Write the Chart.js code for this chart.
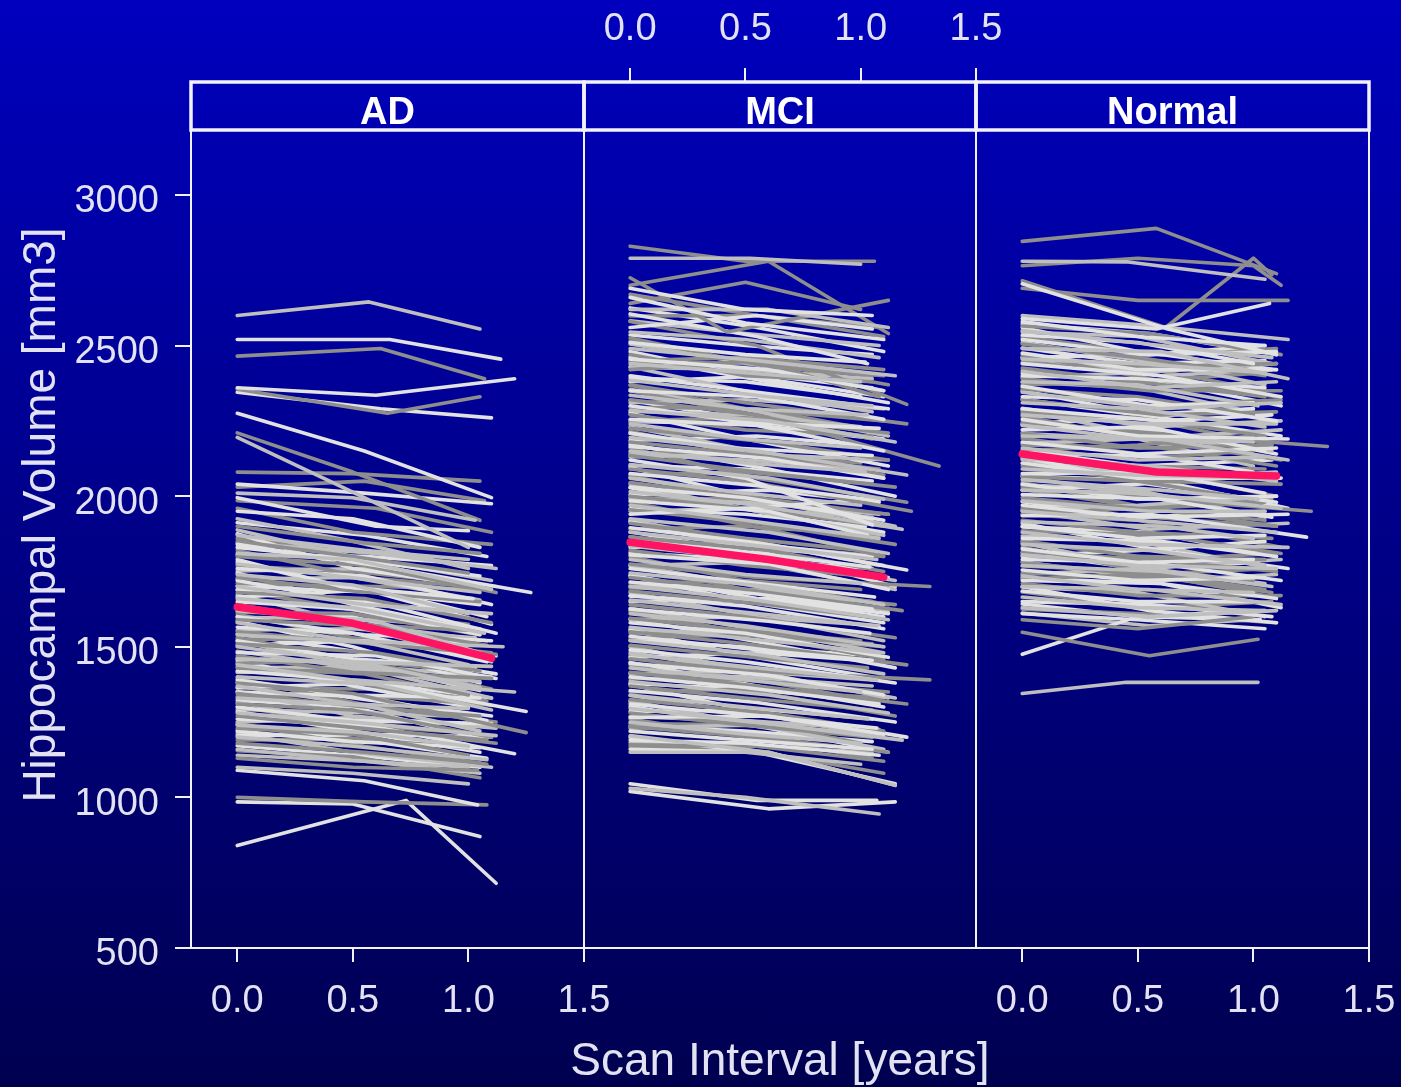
<!DOCTYPE html>
<html>
<head>
<meta charset="utf-8">
<script src="https://cdn.jsdelivr.net/npm/chart.js@4.4.1/dist/chart.umd.min.js"></script>
<style>
html,body{margin:0;padding:0;background:#000050;}
#wrap{position:relative;width:1401px;height:1087px;overflow:hidden;
  background:linear-gradient(to bottom, rgb(0,0,190) 0%, rgb(0,0,80) 100%);}
#wrap canvas{position:absolute;left:0;top:0;}
</style>
</head>
<body>
<div id="wrap">
  <canvas id="cAD" width="1401" height="1087"></canvas>
  <canvas id="cMCI" width="1401" height="1087"></canvas>
  <canvas id="cNormal" width="1401" height="1087"></canvas>
</div>
<script>
// ---------------- DATA ----------------
const panelNames = ["AD", "MCI", "Normal"];
const xTickValues = [0, 0.5, 1.0, 1.5];
const yTickValues = [500, 1000, 1500, 2000, 2500, 3000];
const xRange = [-0.2, 1.5];
const yRange = [500, 3375];
const xTitle = "Scan Interval [years]";
const yTitle = "Hippocampal Volume [mm3]";

// each subject: [t0, v0, t1, v1, t2, v2, ...]  (years, mm3)
const adMean = [0,1632, 0.5,1578, 1.1,1462];
const mciMean = [0,1847, 0.6,1790, 1.1,1731];
const normalMean = [0,2140, 0.58,2080, 1.1,2067];

const adA = [
 [0,2520, 0.66,2520, 1.14,2455],[0,2360, 0.6,2335, 1.2,2390],[0,2345, 0.62,2290, 1.1,2260],
 [0,2275, 0.55,2150, 1.1,1995],[0,2040, 0.55,2010, 1.1,1975],[0,1995, 0.6,1900, 1.0,1885],
 [0,1950, 0.5,1925, 1.05,1830],[0,1840, 0.6,1770, 1.27,1680],[0,1830, 0.5,1790, 1.05,1735],
 [0,1790, 0.45,1700, 1.02,1660],[0,1760, 0.55,1735, 1.1,1640],[0,1720, 0.5,1650, 1.0,1615],
 [0,1690, 0.55,1655, 1.12,1545],[0,1650, 0.5,1625, 1.05,1540],[0,1600, 0.55,1540, 1.1,1520],
 [0,1565, 0.5,1545, 1.08,1450],[0,1520, 0.5,1460, 1.03,1430],[0,1480, 0.6,1470, 1.12,1395],
 [0,1420, 0.55,1385, 1.25,1285],[0,1390, 0.5,1340, 1.05,1330],[0,1350, 0.55,1335, 1.08,1255],
 [0,1300, 0.5,1255, 1.1,1245],[0,1260, 0.55,1240, 1.2,1145],[0,1220, 0.5,1185, 1.05,1165],
 [0,1090, 0.55,1055, 1.04,975],[0,985, 0.5,978, 1.05,870],[0,840, 0.73,990, 1.12,715],
 [0,1875, 0.5,1760, 1.05,1700],[0,1805, 0.55,1800, 1.1,1770],[0,1745, 0.5,1640, 1.0,1560],
 [0,1665, 0.6,1690, 1.08,1600],[0,1585, 0.5,1500, 1.05,1380],[0,1505, 0.55,1520, 1.12,1470],
 [0,1455, 0.5,1370, 1.0,1300],[0,1365, 0.6,1380, 1.1,1330],[0,1285, 0.5,1220, 1.05,1150],
 [0,1205, 0.55,1210, 1.1,1200],
 [0,1912, 0.55,1870, 1.08,1800],[0,1782, 0.5,1690, 1.05,1640],[0,1702, 0.6,1680, 1.1,1575],
 [0,1622, 0.5,1600, 1.0,1505],[0,1542, 0.55,1480, 1.12,1410],[0,1462, 0.5,1450, 1.05,1355],
 [0,1382, 0.6,1320, 1.1,1270],[0,1322, 0.5,1300, 1.03,1200],[0,1242, 0.55,1190, 1.08,1130],
 [0,1172, 0.5,1140, 1.05,1100]
];
const adB = [
 [0,2600, 0.57,2645, 1.05,2555],[0,2195, 0.4,2050, 1.0,1830],[0,2010, 0.5,1995, 1.03,1920],
 [0,1870, 0.55,1820, 1.0,1790],[0,1810, 0.5,1790, 1.1,1690],[0,1775, 0.6,1720, 1.05,1680],
 [0,1740, 0.5,1705, 1.0,1610],[0,1700, 0.55,1640, 1.1,1610],[0,1660, 0.5,1630, 1.07,1545],
 [0,1620, 0.6,1585, 1.05,1480],[0,1580, 0.5,1520, 1.15,1500],[0,1540, 0.55,1515, 1.0,1440],
 [0,1500, 0.5,1450, 1.1,1435],[0,1460, 0.55,1445, 1.05,1365],[0,1440, 0.5,1390, 1.2,1350],
 [0,1400, 0.6,1375, 1.1,1290],[0,1370, 0.5,1310, 1.0,1295],[0,1330, 0.55,1305, 1.05,1220],
 [0,1280, 0.5,1250, 1.12,1205],[0,1240, 0.55,1215, 1.0,1170],[0,1200, 0.5,1170, 1.08,1125],
 [0,1100, 0.5,1080, 1.0,1045],
 [0,1925, 0.5,1850, 1.0,1760],[0,1845, 0.6,1810, 1.12,1760],[0,1725, 0.5,1730, 1.05,1655],
 [0,1635, 0.55,1560, 1.1,1450],[0,1555, 0.5,1560, 1.03,1530],[0,1485, 0.6,1420, 1.1,1330],
 [0,1415, 0.5,1420, 1.05,1385],[0,1315, 0.55,1240, 1.0,1175],[0,1250, 0.5,1265, 1.08,1240],
 [0,1160, 0.55,1120, 1.05,1080],
 [0,1888, 0.5,1800, 1.1,1720],[0,1752, 0.55,1760, 1.0,1700],[0,1672, 0.5,1580, 1.08,1520],
 [0,1598, 0.6,1590, 1.05,1560],[0,1518, 0.5,1440, 1.1,1400],[0,1432, 0.55,1430, 1.0,1370],
 [0,1352, 0.5,1270, 1.12,1230],[0,1292, 0.6,1280, 1.05,1265],[0,1212, 0.5,1150, 1.1,1100],
 [0,1140, 0.55,1120, 1.0,1100]
];
const adC = [
 [0,2465, 0.62,2490, 1.07,2390],[0,2355, 0.65,2275, 1.05,2330],[0,2210, 0.5,2080, 1.05,1920],
 [0,2080, 0.5,2075, 1.05,2050],[0,2030, 0.55,2050, 1.07,1985],[0,1985, 0.6,1960, 1.1,1880],
 [0,1900, 0.55,1845, 1.05,1810],[0,1850, 0.5,1800, 1.0,1745],[0,1800, 0.55,1770, 1.12,1680],
 [0,1730, 0.5,1685, 1.05,1650],[0,1680, 0.55,1660, 1.1,1580],[0,1640, 0.5,1575, 1.0,1555],
 [0,1590, 0.55,1570, 1.08,1505],[0,1550, 0.5,1515, 1.12,1475],[0,1510, 0.6,1480, 1.05,1420],
 [0,1470, 0.5,1415, 1.1,1395],[0,1430, 0.55,1410, 1.0,1340],[0,1380, 0.5,1345, 1.25,1215],
 [0,1345, 0.55,1300, 1.05,1270],[0,1310, 0.5,1290, 1.1,1200],[0,1270, 0.6,1225, 1.08,1190],
 [0,1230, 0.5,1210, 1.0,1140],[0,1180, 0.55,1150, 1.05,1115],[0,1130, 0.5,1100, 1.04,1090],
 [0,1000, 0.55,985, 1.08,975],
 [0,1960, 0.5,1880, 1.1,1840],[0,1820, 0.55,1730, 1.0,1700],[0,1710, 0.6,1700, 1.1,1690],
 [0,1615, 0.5,1610, 1.05,1540],[0,1530, 0.55,1450, 1.1,1360],[0,1445, 0.5,1455, 1.0,1420],
 [0,1395, 0.6,1300, 1.12,1250],[0,1335, 0.5,1340, 1.05,1310],[0,1245, 0.55,1170, 1.08,1110],
 [0,1190, 0.5,1195, 1.0,1165],
 [0,1860, 0.55,1815, 1.05,1770],[0,1768, 0.5,1750, 1.12,1700],[0,1688, 0.6,1610, 1.0,1575],
 [0,1608, 0.5,1530, 1.1,1480],[0,1525, 0.55,1525, 1.05,1470],[0,1448, 0.5,1380, 1.08,1320],
 [0,1362, 0.6,1360, 1.1,1305],[0,1302, 0.5,1240, 1.0,1215],[0,1225, 0.55,1230, 1.12,1180],
 [0,1155, 0.5,1135, 1.05,1065]
];

const mciA = [
 [0,2690, 0.5,2620, 1.05,2600],[0,2660, 0.5,2575, 1.1,2520],[0,2605, 0.55,2530, 1.03,2440],
 [0,2560, 0.55,2600, 1.05,2555],[0,2510, 0.5,2470, 1.02,2445],[0,2455, 0.6,2420, 1.1,2350],
 [0,2400, 0.5,2350, 1.12,2290],[0,2350, 0.55,2330, 1.1,2255],[0,2300, 0.5,2245, 1.08,2225],
 [0,2255, 0.55,2235, 1.1,2150],[0,2210, 0.45,2160, 1.05,2135],[0,2165, 0.6,2125, 1.1,2060],
 [0,2120, 0.5,2060, 1.05,1905],[0,2075, 0.55,2035, 1.08,1985],[0,2030, 0.5,1995, 1.05,1925],
 [0,1985, 0.6,1950, 1.03,1870],[0,1940, 0.5,1960, 1.05,1990],[0,1895, 0.55,1845, 1.2,1755],
 [0,1850, 0.5,1815, 1.04,1765],[0,1805, 0.6,1775, 1.12,1690],[0,1760, 0.5,1715, 1.06,1665],
 [0,1715, 0.55,1675, 1.05,1625],[0,1670, 0.5,1635, 1.1,1560],[0,1625, 0.6,1585, 1.04,1545],
 [0,1580, 0.5,1545, 1.12,1465],[0,1535, 0.55,1490, 1.05,1455],[0,1490, 0.5,1450, 1.15,1380],
 [0,1445, 0.6,1405, 1.1,1340],[0,1400, 0.5,1365, 1.08,1310],[0,1355, 0.55,1315, 1.15,1250],
 [0,1310, 0.5,1275, 1.07,1230],[0,1265, 0.6,1270, 1.1,1210],[0,1220, 0.5,1190, 1.05,1160],
 [0,1190, 0.5,1180, 1.08,1140],[0,1160, 0.6,1150, 1.15,1040],[0,1045, 0.55,990, 1.07,990],
 [0,1020, 0.6,962, 1.15,985],
 [0,2480, 0.5,2400, 1.1,2330],[0,2380, 0.6,2400, 1.05,2360],[0,2275, 0.5,2190, 1.12,2100],
 [0,2185, 0.55,2200, 1.0,2170],[0,2095, 0.5,2000, 1.1,1920],[0,2005, 0.6,2020, 1.08,1980],
 [0,1915, 0.5,1830, 1.15,1700],[0,1830, 0.55,1840, 1.05,1800],[0,1735, 0.5,1650, 1.1,1580],
 [0,1650, 0.6,1660, 1.12,1610],[0,1555, 0.5,1470, 1.05,1400],[0,1465, 0.55,1480, 1.1,1450],
 [0,1375, 0.5,1290, 1.2,1200],[0,1285, 0.6,1290, 1.05,1260],[0,1200, 0.55,1150, 1.15,1045],
 [0,2625, 0.55,2560, 1.1,2480],[0,2535, 0.5,2500, 1.05,2470],[0,2462, 0.6,2380, 1.12,2310],
 [0,2392, 0.5,2380, 1.0,2330],[0,2318, 0.55,2250, 1.1,2190],[0,2248, 0.5,2240, 1.08,2190],
 [0,2172, 0.6,2090, 1.15,2000],[0,2102, 0.5,2090, 1.05,2050],[0,2028, 0.55,1950, 1.1,1880],
 [0,1958, 0.5,1940, 1.02,1900],[0,1882, 0.6,1800, 1.12,1730],[0,1812, 0.5,1790, 1.05,1760],
 [0,1738, 0.55,1660, 1.1,1600],[0,1668, 0.5,1650, 1.0,1620],[0,1592, 0.6,1510, 1.15,1430],
 [0,1522, 0.5,1500, 1.05,1470],[0,1448, 0.55,1370, 1.1,1300],[0,1378, 0.5,1360, 1.08,1320],
 [0,1302, 0.6,1230, 1.12,1150],[0,1238, 0.5,1220, 1.05,1185]
];
const mciB = [
 [0,2790, 0.52,2790, 1.0,2770],[0,2620, 0.6,2620, 1.12,2560],[0,2545, 0.5,2520, 1.08,2460],
 [0,2490, 0.55,2450, 1.15,2400],[0,2440, 0.5,2410, 1.0,2380],[0,2385, 0.6,2330, 1.05,2300],
 [0,2335, 0.5,2290, 1.03,2270],[0,2285, 0.6,2250, 1.15,2180],[0,2240, 0.5,2190, 1.0,2160],
 [0,2195, 0.55,2150, 1.2,2070],[0,2150, 0.5,2110, 1.02,2080],[0,2105, 0.6,2060, 1.1,1990],
 [0,2060, 0.5,2010, 1.0,1970],[0,2015, 0.55,1970, 1.18,1890],[0,1970, 0.5,1920, 1.08,1860],
 [0,1925, 0.6,1880, 1.12,1810],[0,1880, 0.5,1840, 1.07,1790],[0,1835, 0.55,1790, 1.15,1720],
 [0,1790, 0.5,1740, 1.0,1710],[0,1745, 0.6,1700, 1.1,1640],[0,1700, 0.5,1660, 1.12,1590],
 [0,1655, 0.55,1610, 1.07,1570],[0,1610, 0.5,1570, 1.1,1500],[0,1565, 0.6,1520, 1.08,1480],
 [0,1520, 0.5,1480, 1.1,1410],[0,1475, 0.55,1430, 1.07,1390],[0,1430, 0.5,1390, 1.0,1350],
 [0,1385, 0.6,1340, 1.12,1280],[0,1340, 0.5,1300, 1.03,1260],[0,1295, 0.55,1250, 1.18,1190],
 [0,1250, 0.5,1210, 1.0,1180],[0,1205, 0.6,1150, 1.15,1040],[0,1150, 0.5,1150, 1.0,1110],
 [0,1030, 0.5,1000, 1.08,945],
 [0,2430, 0.55,2340, 1.05,2280],[0,2310, 0.5,2320, 1.1,2290],[0,2230, 0.6,2140, 1.0,2090],
 [0,2130, 0.5,2140, 1.12,2120],[0,2040, 0.55,1950, 1.1,1870],[0,1950, 0.5,1960, 1.05,1930],
 [0,1865, 0.6,1770, 1.15,1690],[0,1770, 0.5,1780, 1.0,1750],[0,1680, 0.55,1600, 1.1,1520],
 [0,1590, 0.5,1600, 1.08,1570],[0,1500, 0.6,1410, 1.12,1330],[0,1410, 0.5,1420, 1.05,1390],
 [0,1320, 0.55,1240, 1.1,1160],[0,1230, 0.5,1240, 1.0,1215],
 [0,2582, 0.5,2540, 1.08,2500],[0,2505, 0.6,2430, 1.1,2350],[0,2428, 0.5,2420, 1.05,2390],
 [0,2355, 0.55,2280, 1.12,2200],[0,2282, 0.5,2270, 1.0,2230],[0,2208, 0.6,2130, 1.1,2060],
 [0,2138, 0.5,2120, 1.05,2090],[0,2062, 0.55,1990, 1.15,1900],[0,1992, 0.5,1980, 1.08,1940],
 [0,1918, 0.6,1840, 1.1,1770],[0,1848, 0.5,1830, 1.02,1800],[0,1772, 0.55,1700, 1.12,1620],
 [0,1702, 0.5,1690, 1.05,1650],[0,1628, 0.6,1550, 1.1,1480],[0,1558, 0.5,1540, 1.0,1510],
 [0,1482, 0.55,1410, 1.15,1330],[0,1412, 0.5,1400, 1.05,1370],[0,1338, 0.6,1270, 1.1,1200],
 [0,1268, 0.5,1255, 1.08,1225],[0,1182, 0.55,1170, 1.05,1150]
];
const mciC = [
 [0,2830, 0.5,2780, 1.06,2780],[0,2725, 0.42,2545, 1.12,2650],[0,2700, 0.6,2780, 1.12,2540],
 [0,2670, 0.55,2600, 1.08,2560],[0,2640, 0.5,2710, 1.0,2620],[0,2580, 0.55,2500, 1.2,2305],
 [0,2525, 0.6,2430, 1.1,2400],[0,2470, 0.5,2400, 1.05,2380],[0,2420, 0.55,2450, 1.08,2330],
 [0,2370, 0.5,2310, 1.2,2240],[0,2320, 0.55,2270, 1.34,2100],[0,2270, 0.5,2220, 1.05,2200],
 [0,2225, 0.6,2180, 1.12,2120],[0,2180, 0.5,2140, 1.08,2090],[0,2135, 0.55,2080, 1.15,2030],
 [0,2090, 0.5,2050, 1.22,1950],[0,2045, 0.6,1990, 1.12,1940],[0,2000, 0.5,1960, 1.1,1900],
 [0,1955, 0.55,1910, 1.15,1840],[0,1910, 0.5,1860, 1.0,1820],[0,1865, 0.6,1820, 1.1,1750],
 [0,1820, 0.5,1770, 1.08,1730],[0,1775, 0.55,1730, 1.3,1700],[0,1730, 0.5,1690, 1.18,1620],
 [0,1685, 0.6,1640, 1.03,1600],[0,1640, 0.5,1600, 1.15,1530],[0,1595, 0.55,1550, 1.0,1520],
 [0,1550, 0.5,1510, 1.2,1440],[0,1505, 0.6,1460, 1.03,1430],[0,1460, 0.5,1420, 1.3,1390],
 [0,1415, 0.55,1370, 1.2,1310],[0,1370, 0.5,1330, 1.05,1290],[0,1325, 0.6,1280, 1.1,1220],
 [0,1280, 0.5,1240, 1.05,1200],[0,1235, 0.55,1200, 1.12,1150],[0,1175, 0.55,1170, 1.1,1120],
 [0,2450, 0.5,2460, 1.1,2420],[0,2350, 0.6,2260, 1.05,2190],[0,2250, 0.5,2260, 1.12,2210],
 [0,2160, 0.55,2060, 1.2,1980],[0,2070, 0.5,2080, 1.05,2040],[0,1980, 0.6,1890, 1.1,1800],
 [0,1890, 0.5,1900, 1.08,1870],[0,1800, 0.55,1710, 1.12,1640],[0,1710, 0.5,1720, 1.0,1690],
 [0,1620, 0.6,1530, 1.1,1460],[0,1530, 0.5,1540, 1.05,1510],[0,1440, 0.55,1350, 1.15,1270],
 [0,1350, 0.5,1360, 1.1,1330],[0,1260, 0.6,1190, 1.05,1130],
 [0,2598, 0.55,2600, 1.1,2530],[0,2515, 0.5,2440, 1.05,2400],[0,2445, 0.6,2440, 1.12,2370],
 [0,2368, 0.5,2290, 1.1,2250],[0,2295, 0.55,2290, 1.05,2220],[0,2215, 0.5,2140, 1.0,2110],
 [0,2145, 0.6,2140, 1.1,2070],[0,2068, 0.5,1990, 1.12,1940],[0,1995, 0.55,1990, 1.05,1920],
 [0,1922, 0.5,1840, 1.1,1800],[0,1845, 0.6,1840, 1.08,1770],[0,1768, 0.5,1690, 1.15,1640],
 [0,1695, 0.55,1690, 1.05,1620],[0,1618, 0.5,1540, 1.1,1500],[0,1545, 0.6,1540, 1.02,1470],
 [0,1468, 0.5,1390, 1.12,1350],[0,1395, 0.55,1390, 1.05,1320],[0,1318, 0.5,1240, 1.1,1210],
 [0,1245, 0.6,1240, 1.0,1180],[0,1168, 0.5,1160, 1.1,1080]
];

const normalA = [
 [0,2705, 0.63,2555, 1.1,2470],[0,2590, 0.58,2555, 1.07,2640],[0,2580, 0.5,2530, 1.05,2500],
 [0,2535, 0.5,2510, 1.0,2440],[0,2520, 0.55,2470, 1.1,2480],[0,2475, 0.5,2420, 1.08,2420],
 [0,2440, 0.6,2400, 1.12,2330],[0,2400, 0.5,2390, 1.05,2360],[0,2365, 0.55,2300, 1.0,2310],
 [0,2330, 0.5,2320, 1.1,2250],[0,2290, 0.6,2250, 1.08,2270],[0,2255, 0.5,2200, 1.15,2190],
 [0,2220, 0.55,2230, 1.05,2150],[0,2180, 0.5,2140, 1.1,2160],[0,2145, 0.6,2130, 1.0,2080],
 [0,2110, 0.5,2060, 1.12,2060],[0,2075, 0.55,2080, 1.05,2010],[0,2040, 0.5,1990, 1.1,2000],
 [0,2005, 0.6,1990, 1.08,1930],[0,1970, 0.5,1930, 1.15,1940],[0,1935, 0.55,1940, 1.23,1864],
 [0,1900, 0.5,1860, 1.05,1870],[0,1860, 0.6,1850, 1.1,1800],[0,1825, 0.5,1780, 1.0,1790],
 [0,1790, 0.55,1780, 1.12,1720],[0,1755, 0.5,1720, 1.05,1730],[0,1720, 0.6,1710, 1.1,1660],
 [0,1685, 0.5,1650, 1.0,1650],[0,1650, 0.55,1640, 1.08,1600],[0,1610, 0.5,1590, 1.05,1560],
 [0,1475, 0.5,1600, 1.03,1590],
 [0,2560, 0.5,2480, 1.1,2420],[0,2460, 0.55,2470, 1.05,2500],[0,2350, 0.6,2260, 1.12,2200],
 [0,2240, 0.5,2260, 1.0,2290],[0,2130, 0.55,2040, 1.1,1980],[0,2020, 0.5,2040, 1.08,2070],
 [0,1910, 0.6,1820, 1.15,1760],[0,1800, 0.5,1820, 1.05,1850],[0,1700, 0.55,1620, 1.1,1580],
 [0,2572, 0.55,2540, 1.1,2470],[0,2492, 0.5,2440, 1.05,2450],[0,2408, 0.6,2380, 1.12,2300],
 [0,2322, 0.5,2270, 1.0,2290],[0,2238, 0.55,2220, 1.1,2140],[0,2152, 0.5,2100, 1.08,2120],
 [0,2068, 0.6,2050, 1.15,1960],[0,1982, 0.5,1930, 1.05,1950],[0,1898, 0.55,1880, 1.1,1800],
 [0,1812, 0.5,1760, 1.02,1780],[0,1728, 0.6,1710, 1.12,1630],[0,1642, 0.5,1600, 1.05,1620]
];
const normalB = [
 [0,2780, 0.45,2778, 1.05,2720],[0,2600, 0.5,2570, 1.15,2520],[0,2550, 0.6,2500, 1.08,2460],
 [0,2490, 0.6,2480, 1.15,2390],[0,2455, 0.5,2440, 1.05,2410],[0,2415, 0.55,2360, 1.1,2380],
 [0,2380, 0.5,2370, 1.02,2300],[0,2345, 0.6,2290, 1.12,2310],[0,2310, 0.5,2290, 1.05,2230],
 [0,2270, 0.55,2240, 1.1,2240],[0,2235, 0.5,2190, 1.0,2180],[0,2200, 0.6,2190, 1.15,2120],
 [0,2160, 0.5,2120, 1.05,2130],[0,2125, 0.55,2100, 1.1,2050],[0,2090, 0.5,2070, 1.08,2060],
 [0,2055, 0.6,2020, 1.02,1990],[0,2020, 0.5,2010, 1.12,1960],[0,1985, 0.55,1950, 1.05,1950],
 [0,1950, 0.5,1920, 1.1,1880],[0,1915, 0.6,1900, 1.0,1860],[0,1880, 0.5,1840, 1.15,1830],
 [0,1840, 0.55,1820, 1.05,1770],[0,1805, 0.5,1770, 1.1,1760],[0,1770, 0.6,1750, 1.08,1700],
 [0,1735, 0.5,1690, 1.0,1680],[0,1700, 0.55,1690, 1.12,1640],[0,1665, 0.5,1630, 1.05,1620],
 [0,1630, 0.55,1600, 1.1,1620],[0,1345, 0.45,1382, 1.02,1382],
 [0,2510, 0.6,2440, 1.05,2370],[0,2395, 0.5,2410, 1.1,2440],[0,2285, 0.55,2200, 1.08,2150],
 [0,2175, 0.5,2190, 1.12,2220],[0,2065, 0.6,1990, 1.0,1940],[0,1955, 0.5,1970, 1.1,2000],
 [0,1845, 0.55,1760, 1.05,1710],[0,1740, 0.5,1760, 1.12,1790],
 [0,2545, 0.5,2530, 1.08,2440],[0,2462, 0.6,2400, 1.1,2420],[0,2378, 0.5,2360, 1.05,2270],
 [0,2292, 0.55,2230, 1.12,2250],[0,2208, 0.5,2190, 1.0,2100],[0,2122, 0.6,2060, 1.1,2080],
 [0,2038, 0.5,2020, 1.05,1930],[0,1952, 0.55,1890, 1.15,1910],[0,1868, 0.5,1850, 1.08,1760],
 [0,1782, 0.6,1720, 1.1,1740],[0,1698, 0.5,1680, 1.05,1600],[0,1612, 0.55,1570, 1.0,1590]
];
const normalC = [
 [0,2846, 0.58,2889, 1.1,2739],[0,2765, 0.5,2790, 1.0,2765, 1.12,2700],
 [0,2715, 0.62,2560, 1.0,2790, 1.08,2735],[0,2690, 0.5,2650, 1.15,2650],
 [0,2565, 0.55,2540, 1.12,2470],[0,2505, 0.5,2460, 1.05,2400],[0,2460, 0.6,2430, 1.1,2440],
 [0,2425, 0.5,2380, 1.05,2330],[0,2390, 0.55,2350, 1.12,2350],[0,2355, 0.5,2330, 1.0,2270],
 [0,2320, 0.6,2270, 1.1,2280],[0,2280, 0.5,2260, 1.05,2200],[0,2245, 0.55,2210, 1.32,2165],
 [0,2210, 0.5,2160, 1.08,2170],[0,2170, 0.6,2160, 1.1,2100],[0,2135, 0.5,2100, 1.05,2090],
 [0,2100, 0.55,2050, 1.12,2040],[0,2065, 0.5,2050, 1.0,1990],[0,2030, 0.6,1990, 1.25,1950],
 [0,1995, 0.5,1960, 1.05,1920],[0,1960, 0.55,1930, 1.1,1900],[0,1920, 0.5,1880, 1.08,1860],
 [0,1885, 0.6,1870, 1.12,1810],[0,1850, 0.5,1800, 1.05,1790],[0,1815, 0.55,1790, 1.1,1750],
 [0,1780, 0.5,1740, 1.0,1720],[0,1745, 0.6,1730, 1.08,1680],[0,1710, 0.5,1670, 1.12,1670],
 [0,1590, 0.5,1560, 1.0,1600],[0,1548, 0.55,1470, 1.02,1525],
 [0,2470, 0.55,2390, 1.1,2330],[0,2370, 0.5,2380, 1.05,2410],[0,2265, 0.6,2180, 1.12,2120],
 [0,2150, 0.5,2170, 1.0,2200],[0,2045, 0.55,1960, 1.1,1900],[0,1940, 0.5,1960, 1.08,1990],
 [0,1830, 0.6,1740, 1.05,1690],[0,1725, 0.5,1740, 1.1,1760],
 [0,2528, 0.6,2470, 1.1,2490],[0,2445, 0.5,2430, 1.05,2350],[0,2362, 0.55,2300, 1.12,2320],
 [0,2275, 0.5,2260, 1.08,2170],[0,2192, 0.6,2130, 1.0,2150],[0,2108, 0.5,2090, 1.1,2000],
 [0,2022, 0.55,1960, 1.05,1980],[0,1938, 0.5,1920, 1.12,1830],[0,1852, 0.6,1790, 1.1,1810],
 [0,1768, 0.5,1750, 1.05,1670],[0,1682, 0.55,1630, 1.08,1650],[0,1625, 0.5,1610, 1.1,1580]
];

// ---------------- STYLE / LAYOUT ----------------
const FONT = '"Liberation Sans", Arial, Helvetica, sans-serif';
const TXT = '#e2e2f2';
const FRAME = '#f2f2fa';
const GREYS = ['#e2e2e2', '#bfbfbf', '#8e8e8e'];
const MEAN_COLOR = '#ff1464';
const STRIP_BOTTOM_PX = 130;
const W = 1401, H = 1087;
const AREA_TOP = 82, AREA_BOTTOM = 948;

Chart.defaults.font.family = FONT;

function toPoints(a){ const p=[]; for(let i=0;i<a.length;i+=2) p.push({x:a[i], y:a[i+1]}); return p; }
function buildDatasets(groups, mean){
  const ds = [{data:toPoints(mean), borderColor:MEAN_COLOR, borderWidth:7.5}];
  const n = Math.max(...groups.map(g=>g.length));
  for(let i=0;i<n;i++){
    groups.forEach((g,gi)=>{ if(g[i]) ds.push({data:toPoints(g[i]), borderColor:GREYS[gi], borderWidth:3.6}); });
  }
  return ds;
}

const framePlugin = {
  id:'frame',
  afterDatasetsDraw(chart, args, opts){
    const {ctx, chartArea:a} = chart;
    ctx.save();
    ctx.strokeStyle = FRAME;
    ctx.lineWidth = 2;
    ctx.strokeRect(a.left, STRIP_BOTTOM_PX, a.right-a.left, a.bottom-STRIP_BOTTOM_PX);
    ctx.lineWidth = 3.5;
    ctx.strokeRect(a.left, a.top, a.right-a.left, STRIP_BOTTOM_PX-a.top);
    ctx.fillStyle = '#ffffff';
    ctx.font = 'bold 38px ' + FONT;
    ctx.textAlign = 'center';
    ctx.textBaseline = 'alphabetic';
    ctx.fillText(opts.label, (a.left+a.right)/2, 124);
    if (opts.xTitle) {
      ctx.fillStyle = TXT;
      ctx.font = '46px ' + FONT;
      ctx.fillText(opts.xTitle, (a.left+a.right)/2, 1075);
    }
    ctx.restore();
  }
};

function xAxis(position, height){
  return {
    type:'linear', position, min:xRange[0], max:xRange[1],
    afterBuildTicks: s => { s.ticks = xTickValues.map(v=>({value:v})); },
    afterFit: s => { s.height = height; s.paddingLeft = 0; s.paddingRight = 0; },
    grid:{display:true, drawOnChartArea:false, drawTicks:true, tickLength:14, color:FRAME, lineWidth:2},
    border:{display:false},
    ticks:{color:TXT, font:{size:38}, padding:position==='top'?16:17,
           maxRotation:0, autoSkip:false, callback:v=>Number(v).toFixed(1)}
  };
}
function yAxis(show){
  const ax = {
    type:'linear', position:'left', display:show, min:yRange[0], max:yRange[1],
    afterBuildTicks: s => { s.ticks = yTickValues.map(v=>({value:v})); },
    grid:{drawOnChartArea:false, tickLength:16, color:FRAME, lineWidth:2},
    border:{display:false},
    ticks:{color:TXT, font:{size:38}, padding:16, labelOffset:7, autoSkip:false, callback:v=>String(v)},
    title:{display:true, text:yTitle, color:TXT, font:{size:46}, padding:{top:15, bottom:0}}
  };
  if (show) ax.afterFit = s => { s.width = 191; };
  return ax;
}

function makeChart(id, label, datasets, scales, padding, extra){
  return new Chart(document.getElementById(id), {
    type:'line',
    data:{datasets},
    options:{
      responsive:false, animation:false, devicePixelRatio:1, events:[],
      layout:{padding},
      plugins:{legend:{display:false}, tooltip:{enabled:false}, frame:Object.assign({label}, extra||{})},
      elements:{point:{radius:0}, line:{tension:0, borderJoinStyle:'round', borderCapStyle:'round', fill:false}},
      scales
    },
    plugins:[framePlugin]
  });
}

// AD panel
makeChart('cAD', panelNames[0], buildDatasets([adA, adB, adC], adMean),
  {x: xAxis('bottom', H-AREA_BOTTOM), y: yAxis(true)},
  {left:0, right:W-584, top:AREA_TOP, bottom:0});

// MCI panel (ticks on top, x title below)
makeChart('cMCI', panelNames[1], buildDatasets([mciA, mciB, mciC], mciMean),
  {x: xAxis('top', AREA_TOP), y: yAxis(false)},
  {left:584, right:W-976, top:0, bottom:H-AREA_BOTTOM}, {xTitle});

// Normal panel
makeChart('cNormal', panelNames[2], buildDatasets([normalA, normalB, normalC], normalMean),
  {x: xAxis('bottom', H-AREA_BOTTOM), y: yAxis(false)},
  {left:976, right:W-1369, top:AREA_TOP, bottom:0});
</script>
</body>
</html>
